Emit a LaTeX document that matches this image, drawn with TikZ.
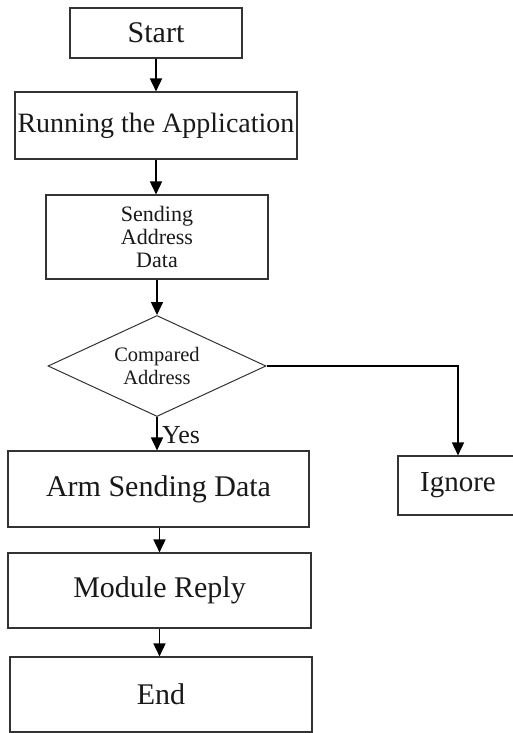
\documentclass[tikz,border=0pt]{standalone}
\usepackage{fontspec}
\setmainfont{Liberation Serif}
\usetikzlibrary{shapes.geometric,arrows.meta}
\begin{document}
\begin{tikzpicture}[x=1pt,y=-1pt,
  box/.style={draw=black!80,line width=1.1pt,rectangle,inner sep=0pt,align=center,text=black!90},
  dec/.style={draw=black!80,line width=1pt,diamond,aspect=2.16,inner sep=0pt,align=center,text=black!90,minimum width=218,minimum height=101},
  arr/.style={line width=1.6pt,-{Triangle[width=12pt,length=13pt]}},
  big/.style={font=\fontsize{30}{32}\selectfont}]
\useasboundingbox[fill=white] (0,0) rectangle (513,733);
\node[box,big,minimum width=172,minimum height=50] (start) at (156,33) {Start};
\node[box,minimum width=282,minimum height=67,font=\fontsize{28}{30}\selectfont] (run) at (156,125.5) {Running the Application};
\node[box,minimum width=222,minimum height=84,font=\fontsize{22}{23}\selectfont] (send) at (157,237) {Sending\\Address\\Data};
\node[dec,font=\fontsize{20.5}{23}\selectfont] (dia) at (157,366) {Compared\\Address};
\node[box,big,minimum width=301,minimum height=76] (arm) at (158.5,489) {Arm Sending Data};
\node[box,minimum width=120,minimum height=59,font=\fontsize{29}{31}\selectfont] (ign) at (458,485.5) {Ignore};
\node[box,big,minimum width=303,minimum height=75] (mod) at (159.5,590.5) {Module Reply};
\node[box,big,minimum width=302,minimum height=75] (end) at (161,694.5) {End};
\node[anchor=base west,inner sep=0pt,font=\fontsize{26}{28}\selectfont,text=black!90] (yes) at (162,443) {Yes};
\draw[arr] (start.south) -- (start.south |- run.north);
\draw[arr] (run.south) -- (run.south |- send.north);
\draw[arr] (send.south) -- (send.south |- dia.north);
\draw[arr] (dia.south) -- (dia.south |- arm.north);
\draw[arr] (dia.east) -| (ign.north);
\draw[arr] (mod.north |- arm.south) -- (mod.north);
\draw[arr] (mod.south) -- (mod.south |- end.north);
\end{tikzpicture}
\end{document}
